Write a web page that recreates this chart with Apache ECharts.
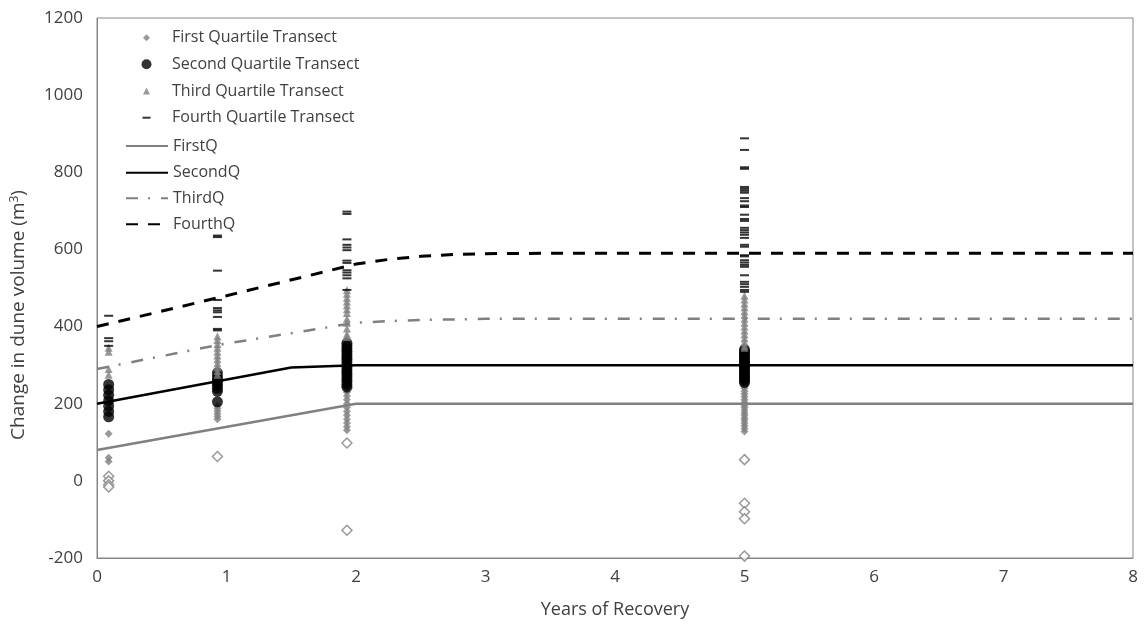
<!DOCTYPE html>
<html><head><meta charset="utf-8">
<script src="https://cdn.jsdelivr.net/npm/echarts@6/dist/echarts.min.js"></script>
<style>html,body{margin:0;padding:0;background:#fff}#c{width:1147px;height:628px}</style>
</head><body><div id="c"></div>
<script>
// survey times (years of recovery)
const years = [0.09, 0.93, 1.93, 5];

// transect values per survey time (m^3)
const q1Values = [
  [122, 60, 50],
  [195, 188, 181, 174, 167, 160],
  [262, 250, 240, 230, 220, 210, 200, 190, 180, 170, 160, 150, 140, 131],
  [250, 245, 240, 232, 225, 218, 210, 203, 196, 190, 183, 176, 170, 163, 157, 150, 143, 136, 128]
];
const q1Outliers = [
  [12, 0, -10, -16],
  [63],
  [98, -128],
  [55, -58, -80, -98, -195]
];
const q2Values = [
  [250, 236, 222, 208, 194, 180, 166],
  [280, 270, 262, 255, 248, 240, 232, 205],
  [357, 350, 343, 336, 329, 322, 315, 308, 300, 293, 286, 279, 272, 265, 258, 250, 243],
  [340, 335, 330, 325, 320, 315, 310, 305, 300, 295, 290, 285, 280, 275, 270, 265, 260, 255]
];
const q3Values = [
  [345, 335, 290, 275],
  [375, 365, 355, 345, 335, 325, 315, 305, 295, 285, 275],
  [495, 485, 475, 465, 455, 445, 435, 420, 410, 395, 380, 373],
  [480, 470, 460, 450, 440, 430, 420, 410, 400, 390, 380, 370, 360, 350, 345]
];
const q4Values = [
  [428, 370, 362, 350],
  [636, 632, 545, 469, 448, 442, 437, 425, 394, 390],
  [698, 692, 626, 612, 605, 598, 571, 565, 546, 540, 533, 525, 495],
  [888, 858, 813, 809, 762, 757, 752, 747, 733, 725, 714, 710, 690, 679, 674, 656, 650, 644, 638, 630, 612, 607, 585, 582, 572, 566, 560, 555, 533, 516, 510, 503, 495, 490]
];

// fitted recovery curves
const firstQX = [0, 2, 8];
const firstQY = [80, 200, 200];
const secondQX = [0, 1.5, 2, 8];
const secondQY = [200, 294, 300, 300];
const thirdQX = [0, 0.93, 2, 2.25, 2.5, 3, 8];
const thirdQY = [290, 352, 410, 414, 417, 420, 420];
const fourthQX = [0, 1, 2, 2.25, 2.5, 2.75, 3, 3.5, 8];
const fourthQY = [400, 480, 562, 574, 582, 587, 589, 590, 590];

// axis ticks
const xTicks = [0, 1, 2, 3, 4, 5, 6, 7, 8];
const yTicks = [-200, 0, 200, 400, 600, 800, 1000, 1200];

function pts(vals) {
  const out = [];
  vals.forEach((arr, i) => arr.forEach(v => out.push([years[i], v])));
  return out;
}
function linePts(xs, ys) { return xs.map((x, i) => [x, ys[i]]); }

const FONT = 'Open Sans';
const TXT = '#404040';
const GRAY = '#808080';
const NO_SYMBOL = 'path://M0,0M1,1';

function legendRow(item, center, h) {
  return {
    left: 125, top: center - 7, padding: 0, orient: 'vertical',
    itemWidth: 42, itemHeight: h, selectedMode: false,
    data: [item],
    textStyle: { fontFamily: FONT, fontSize: 16, color: TXT }
  };
}

const option = {
  animation: false,
  backgroundColor: '#fff',
  grid: { left: 97, right: 14, top: 18, bottom: 70, show: true, borderColor: '#868686', borderWidth: 1 },
  legend: [
    legendRow({ name: 'First Quartile Transect', icon: 'path://M0,0M42,7M18,3.5L21.5,0L25,3.5L21.5,7Z' }, 36.7, 7),
    legendRow({ name: 'Second Quartile Transect', icon: 'path://M0,0M42,10M16.5,5A5,5 0 1,0 26.5,5A5,5 0 1,0 16.5,5Z' }, 63.3, 10),
    legendRow({ name: 'Third Quartile Transect', icon: 'path://M0,0M42,7M18,7L21.5,0L25,7Z' }, 90, 7),
    legendRow({ name: 'Fourth Quartile Transect', icon: 'path://M0,0M42,2M17.5,0H25.5V2H17.5Z' }, 116.7, 2),
    legendRow('FirstQ', 145, 14),
    legendRow('SecondQ', 171.7, 14),
    legendRow('ThirdQ', 197.3, 14),
    legendRow('FourthQ', 223.3, 14)
  ],
  graphic: [{
    type: 'text', x: 19, y: 315, rotation: Math.PI / 2,
    style: {
      text: 'Change in dune volume (m{sup|3})', x: 0, y: 0, align: 'center', verticalAlign: 'middle',
      fontFamily: FONT, fontSize: 19, fill: TXT,
      rich: { sup: { fontFamily: FONT, fontSize: 12, fill: TXT, verticalAlign: 'top', padding: [0, 0, 8, 0] } }
    }
  }],
  xAxis: {
    type: 'value', min: xTicks[0], max: xTicks[xTicks.length - 1], interval: 1,
    name: 'Years of Recovery', nameLocation: 'middle', nameGap: 43,
    nameTextStyle: { fontFamily: FONT, fontSize: 18, color: TXT },
    axisLine: { onZero: false, lineStyle: { color: '#868686' } },
    axisTick: { show: false },
    splitLine: { show: false },
    axisLabel: { fontFamily: FONT, fontSize: 17, color: TXT, margin: 11 }
  },
  yAxis: {
    type: 'value', min: yTicks[0], max: yTicks[yTicks.length - 1], interval: 200,
    axisLine: { show: true, lineStyle: { color: '#868686' } },
    axisTick: { show: false },
    splitLine: { show: false },
    axisLabel: { fontFamily: FONT, fontSize: 17, color: TXT, margin: 14, formatter: v => String(v) }
  },
  series: [
    { name: 'First Quartile Transect', type: 'scatter', data: pts(q1Values), symbol: 'diamond', symbolSize: 8,
      itemStyle: { color: GRAY }, z: 2 },
    { name: 'First Quartile Outliers', type: 'scatter', data: pts(q1Outliers), symbol: 'diamond', symbolSize: 10,
      itemStyle: { color: '#fff', borderColor: GRAY, borderWidth: 1.5 }, z: 2 },
    { name: 'Second Quartile Transect', type: 'scatter', data: pts(q2Values), symbol: 'circle', symbolSize: 11,
      itemStyle: { color: '#000' }, z: 3 },
    { name: 'Third Quartile Transect', type: 'scatter', data: pts(q3Values), symbol: 'triangle', symbolSize: 8,
      itemStyle: { color: GRAY }, z: 3 },
    { name: 'Fourth Quartile Transect', type: 'scatter', data: pts(q4Values), symbol: 'path://M0,0H9V2H0Z', symbolSize: [9, 2],
      itemStyle: { color: '#000' }, z: 4 },
    { name: 'FirstQ', type: 'line', data: linePts(firstQX, firstQY), symbol: NO_SYMBOL, showSymbol: false,
      lineStyle: { color: GRAY, width: 2.5 }, itemStyle: { color: GRAY }, z: 5 },
    { name: 'SecondQ', type: 'line', data: linePts(secondQX, secondQY), symbol: NO_SYMBOL, showSymbol: false,
      lineStyle: { color: '#000', width: 2.5 }, itemStyle: { color: '#000' }, z: 5 },
    { name: 'ThirdQ', type: 'line', data: linePts(thirdQX, thirdQY), symbol: NO_SYMBOL, showSymbol: false,
      lineStyle: { color: GRAY, width: 2.5, type: [12, 10, 2, 11], cap: 'butt' }, itemStyle: { color: GRAY }, z: 5 },
    { name: 'FourthQ', type: 'line', data: linePts(fourthQX, fourthQY), symbol: NO_SYMBOL, showSymbol: false,
      lineStyle: { color: '#000', width: 3, type: [12, 10], cap: 'butt' }, itemStyle: { color: '#000' }, z: 5 }
  ]
};
const chart = echarts.init(document.getElementById('c'), null, { renderer: 'canvas' });
chart.setOption(option);
</script></body></html>
